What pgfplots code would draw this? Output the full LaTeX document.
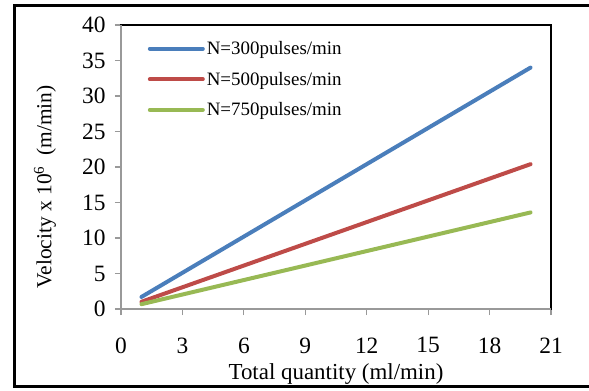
\documentclass[border=0pt]{standalone}
\usepackage{pgfplots}
\pgfplotsset{compat=1.18}
\usepackage{fontspec}
\setmainfont{Liberation Serif}
\definecolor{c1}{HTML}{4A7EBB}
\definecolor{c2}{HTML}{BE4B48}
\definecolor{c3}{HTML}{98B954}
\begin{document}
\begin{tikzpicture}[x=1bp,y=1bp]
\useasboundingbox (-121,-81) rectangle (468,309);
\draw[line width=3bp] (475,304) -- (-106,304) -- (-106,-77) -- (475,-77);
\begin{axis}[
  at={(0,0)}, anchor=south west,
  scale only axis, width=430bp, height=284bp,
  xmin=0, xmax=21, ymin=0, ymax=40,
  xtick={0,3,...,21}, ytick={0,5,...,40},
  xtick pos=left, ytick pos=left,
  tick align=outside, major tick length=6bp,
  tick style={draw=gray!80, line width=1.2bp},
  axis line style={draw=black, line width=1.2bp},
  /pgf/number format/assume math mode=true,
  tick label style={font=\fontsize{23.5}{23.5}\selectfont},
  yticklabel style={xshift=-6bp},
  xticklabel style={yshift=-19bp},
  xlabel={Total quantity (ml/min)},
  ylabel={Velocity x 10\textsuperscript{\fontsize{15}{15}\selectfont 6}\ \ (m/min)},
  label style={font=\fontsize{23}{23}\selectfont},
  xlabel style={at={(axis description cs:0.5,-0.23)}, anchor=center},
  ylabel style={at={(axis description cs:-0.177,0.43)}, anchor=center, rotate=0, font=\fontsize{21.5}{21.5}\selectfont},
  legend style={at={(axis cs:1.3,38.0)}, anchor=north west, draw=none, fill=none,
    font=\fontsize{19}{19}\selectfont, row sep=12bp, inner sep=0pt},
  legend cell align=left,
  legend image code/.code={\draw[#1, line width=4bp] (0bp,0bp) -- (53bp,0bp);},
  clip=false,
]
\addplot[c1, line width=4bp, line cap=round] coordinates {(1,1.7) (5,8.5) (10,17) (15,25.5) (20,34)};
\addlegendentry{N=300pulses/min}
\addplot[c2, line width=4bp, line cap=round] coordinates {(1,1.02) (5,5.1) (10,10.2) (15,15.3) (20,20.4)};
\addlegendentry{N=500pulses/min}
\addplot[c3, line width=4bp, line cap=round] coordinates {(1,0.68) (5,3.4) (10,6.8) (15,10.2) (20,13.6)};
\addlegendentry{N=750pulses/min}
\draw[gray!80, line width=1.5bp] (axis cs:0,40) -- (axis cs:0,0) -- (axis cs:21,0);
\end{axis}
\end{tikzpicture}
\end{document}
